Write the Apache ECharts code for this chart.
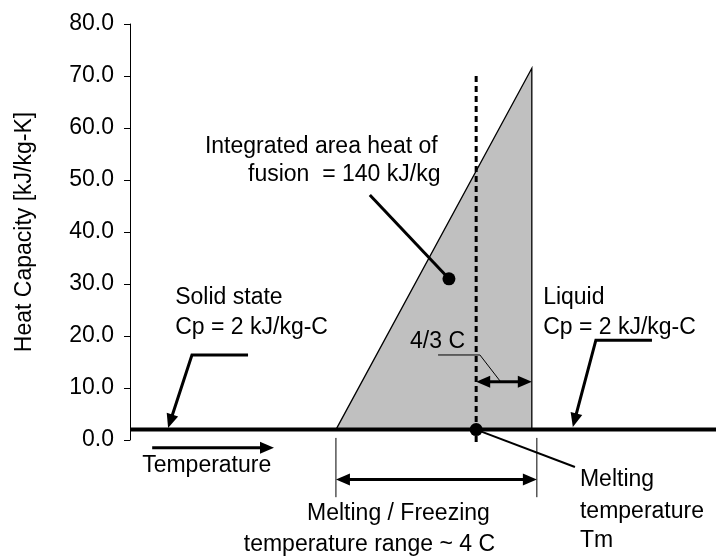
<!DOCTYPE html>
<html>
<head>
<meta charset="utf-8">
<script src="https://cdn.jsdelivr.net/npm/echarts@6/dist/echarts.min.js"></script>
<style>
html,body{margin:0;padding:0;background:#fff;}
#data_show{width:716px;height:557px;}
</style>
</head>
<body>
<div id="data_show"></div>
<script>
// schematic temperature axis (C), not drawn
var temp_min = 0;
var temp_max = 14;
// heat capacity axis ticks
var cp_ticks = [0, 10, 20, 30, 40, 50, 60, 70, 80];
// solid / liquid Cp = 2 kJ/kg-C
var base_x = [0, 14];
var base_y = [2, 2];
// melting peak (triangle)
var peak_x = [4.92, 9.6, 9.6];
var peak_y = [2, 71.5, 2];
// melting temperature Tm (dashed)
var tm_x = [8.27, 8.27];
var tm_y = [70, -1];
// the two dots
var dot_x = [7.62, 8.27];
var dot_y = [31, 2];

// leader lines / arrows, points in (temperature, Cp)
var leader_pts = [
	[[5.73, 47.1], [7.62, 31]],                      // heat of fusion
	[[2.82, 16.35], [1.48, 16.35], [0.91, 2.3]],     // solid state
	[[12.47, 19.2], [11.13, 19.2], [10.58, 2.5]],    // liquid
	[[0.53, -1.5], [3.44, -1.5]],                    // temperature
	[[4.92, -7.6], [9.72, -7.6]],                    // melting range
	[[4.92, 0.4], [4.92, -11]],
	[[9.72, 0.4], [9.72, -11]],
	[[7.36, 16.35], [8.36, 16.35], [8.84, 11.35]],   // 4/3 C leader
	[[8.27, 11.2], [9.6, 11.2]],                     // 4/3 C arrow
	[[8.27, 2], [10.63, -5.2]]                       // Tm leader
];
var leader_heads = ['none', 'end', 'end', 'end', 'both', 'none', 'none', 'none', 'both', 'none'];
var leader_width = [3, 3, 3, 3, 3, 1, 1, 1, 3, 2];

// notes
var note_text = [
	'Integrated area heat of', 'fusion  = 140 kJ/kg',
	'Solid state', 'Cp = 2 kJ/kg-C',
	'Liquid', 'Cp = 2 kJ/kg-C',
	'4/3 C', 'Temperature',
	'Melting / Freezing', 'temperature range ~ 4 C',
	'Melting', 'temperature', 'Tm'
];
var note_x = [1.79, 2.82, 1.08, 1.08, 9.87, 9.87, 6.69, 0.29, 4.23, 8.72, 10.75, 10.75, 10.75];
var note_y = [56.5, 51.0, 27.4, 21.6, 27.4, 21.6, 18.9, -5.0, -14.2, -20.2, -7.7, -13.8, -19.4];
var note_align = ['left', 'left', 'left', 'left', 'left', 'left', 'left', 'left', 'left', 'right', 'left', 'left', 'left'];

var font_family = '"Liberation Sans", Arial, sans-serif';
var chart;

function zip(xs, ys){
	var out = [];
	for(var i = 0; i < xs.length; i++){
		out.push([xs[i], ys[i]]);
	}
	return out;
}

function arrow_head(tip, from, len, hw){
	var dx = tip[0] - from[0], dy = tip[1] - from[1];
	var d = Math.sqrt(dx * dx + dy * dy) || 1;
	dx /= d; dy /= d;
	var bx = tip[0] - dx * len, by = tip[1] - dy * len;
	return {
		poly: [tip, [bx - dy * hw, by + dx * hw], [bx + dy * hw, by - dx * hw]],
		base: [bx + dx * 1, by + dy * 1]
	};
}

function render_leader(params, api){
	var i = params.dataIndex;
	var pts = leader_pts[i].map(function(p){ return api.coord(p); });
	var head = leader_heads[i];
	var children = [];
	var n = pts.length;
	if(head == 'end' || head == 'both'){
		var h = arrow_head(pts[n - 1], pts[n - 2], 14, 6);
		children.push({type: 'polygon', shape: {points: h.poly}, style: {fill: '#000'}});
		pts[n - 1] = h.base;
	}
	if(head == 'both'){
		var h2 = arrow_head(pts[0], pts[1], 14, 6);
		children.push({type: 'polygon', shape: {points: h2.poly}, style: {fill: '#000'}});
		pts[0] = h2.base;
	}
	children.unshift({
		type: 'polyline',
		shape: {points: pts},
		style: {stroke: '#000', lineWidth: leader_width[i], fill: null}
	});
	return {type: 'group', children: children};
}

function render_note(params, api){
	var i = params.dataIndex;
	var p = api.coord([note_x[i], note_y[i]]);
	return {
		type: 'text',
		style: {
			x: p[0],
			y: p[1],
			text: note_text[i],
			fill: '#000',
			font: '23px ' + font_family,
			align: note_align[i],
			verticalAlign: 'middle'
		}
	};
}

function render_peak(params, api){
	var pts = [];
	for(var i = 0; i < peak_x.length; i++){
		pts.push(api.coord([peak_x[i], peak_y[i]]));
	}
	return {
		type: 'polygon',
		shape: {points: pts},
		style: {fill: '#c0c0c0', stroke: '#000', lineWidth: 1.3}
	};
}

function chart_heat_capacity(){
	chart = echarts.init(document.getElementById('data_show'));
	var option = {
		animation: false,
		backgroundColor: '#fff',
		grid: {left: 130, right: 0, top: 24, bottom: 117},
		xAxis: {
			type: 'value',
			min: temp_min,
			max: temp_max,
			show: false
		},
		yAxis: {
			type: 'value',
			min: cp_ticks[0],
			max: cp_ticks[cp_ticks.length - 1],
			interval: cp_ticks[1] - cp_ticks[0],
			name: 'Heat Capacity [kJ/kg-K]',
			nameLocation: 'middle',
			nameGap: 94,
			nameTextStyle: {color: '#000', fontSize: 23, fontFamily: font_family},
			axisLine: {show: true, lineStyle: {color: '#000', width: 1}},
			axisTick: {show: true, length: 6, lineStyle: {color: '#000', width: 1}},
			axisLabel: {
				color: '#000',
				fontSize: 23,
				fontFamily: font_family,
				margin: 16,
				formatter: function(v){ return v.toFixed(1); }
			},
			splitLine: {show: false}
		},
		series: [
			{
				type: 'custom',
				renderItem: render_peak,
				data: [[peak_x[0], peak_y[0]]],
				silent: true
			},
			{
				type: 'line',
				data: zip(tm_x, tm_y),
				symbol: 'none',
				clip: false,
				lineStyle: {color: '#000', width: 3, type: [6, 4]},
				silent: true
			},
			{
				type: 'line',
				data: zip(base_x, base_y),
				symbol: 'none',
				clip: false,
				lineStyle: {color: '#000', width: 4},
				silent: true
			},
			{
				type: 'custom',
				renderItem: render_leader,
				data: leader_pts.map(function(p){ return p[0]; }),
				silent: true
			},
			{
				type: 'scatter',
				data: zip(dot_x, dot_y),
				symbol: 'circle',
				symbolSize: 13,
				itemStyle: {color: '#000', opacity: 1},
				silent: true
			},
			{
				type: 'custom',
				renderItem: render_note,
				data: zip(note_x, note_y),
				silent: true
			}
		]
	};
	chart.setOption(option);
}

chart_heat_capacity();
</script>
</body>
</html>
